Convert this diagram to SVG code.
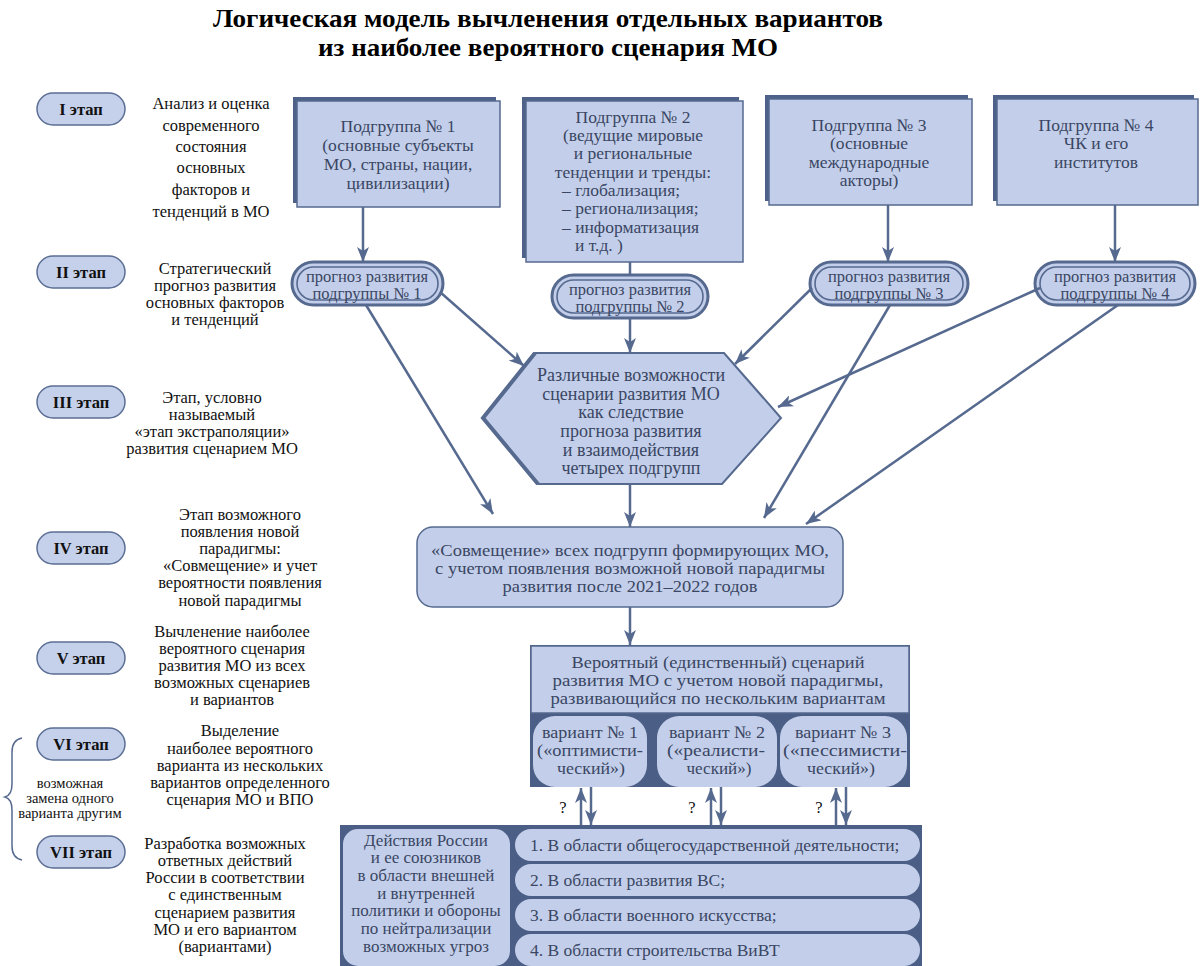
<svg xmlns="http://www.w3.org/2000/svg" width="1200" height="966" viewBox="0 0 1200 966">
<defs>
<marker id="ah" markerUnits="userSpaceOnUse" markerWidth="16" markerHeight="12" refX="15" refY="6" orient="auto">
<path d="M0,0 L15,6 L0,12 L4,6 z" fill="#56698f"/>
</marker>
<style>
text{font-family:"Liberation Serif","Times New Roman","DejaVu Serif","Noto Serif",serif}
.title{font-weight:bold;font-size:26px;fill:#000;text-anchor:middle}
.st{fill:#c5d0ea;stroke:#5b6e94;stroke-width:1.5}
.stt{font-weight:bold;font-size:16.5px;fill:#111;text-anchor:middle}
.desc{font-size:16.5px;fill:#111;text-anchor:middle}
.sm{font-size:14.5px;fill:#111;text-anchor:middle}
.box{fill:#c3cfea;stroke:#56698f;stroke-width:1.5}
.shd{fill:#4e6189}
.bt{font-size:17.5px;fill:#3a4663;text-anchor:middle}
.hx{font-size:18px;fill:#3a4663;text-anchor:middle}
.at{font-size:17px;fill:#3a4663;text-anchor:middle}
.btl{font-size:17.5px;fill:#3a4663}
.pt{font-size:16.5px;fill:#3a4663;text-anchor:middle}
.po{fill:#c3cfea;stroke:#56698f;stroke-width:3}
.pi{fill:none;stroke:#56698f;stroke-width:1.6}
.dark{fill:#4b5e86}
.con{stroke:#56698f;stroke-width:2.5;fill:none}
.arr{stroke:#56698f;stroke-width:2.5;fill:none;marker-end:url(#ah)}
</style>
</defs>

<g id="title">
<text class="title" x="548" y="27" textLength="670" lengthAdjust="spacingAndGlyphs">Логическая модель вычленения отдельных вариантов</text>
<text class="title" x="548" y="56" textLength="460" lengthAdjust="spacingAndGlyphs">из наиболее вероятного сценария МО</text>
</g>

<g id="stage1">
<rect class="st" x="37" y="93" width="88" height="32" rx="16"/>
<text class="stt" x="81" y="115">I этап</text>
<text class="desc" x="211" y="109">Анализ и оценка</text>
<text class="desc" x="211" y="131">современного</text>
<text class="desc" x="211" y="152">состояния</text>
<text class="desc" x="211" y="173">основных</text>
<text class="desc" x="211" y="195">факторов и</text>
<text class="desc" x="211" y="217">тенденций в МО</text>
</g>
<g id="stage2">
<rect class="st" x="37" y="256" width="88" height="32" rx="16"/>
<text class="stt" x="81" y="278">II этап</text>
<text class="desc" x="215" y="274">Стратегический</text>
<text class="desc" x="215" y="291">прогноз развития</text>
<text class="desc" x="215" y="308">основных факторов</text>
<text class="desc" x="215" y="325">и тенденций</text>
</g>
<g id="stage3">
<rect class="st" x="37" y="386" width="88" height="32" rx="16"/>
<text class="stt" x="81" y="408">III этап</text>
<text class="desc" x="212" y="403">Этап, условно</text>
<text class="desc" x="212" y="420">называемый</text>
<text class="desc" x="212" y="437">«этап экстраполяции»</text>
<text class="desc" x="212" y="454">развития сценарием МО</text>
</g>
<g id="stage4">
<rect class="st" x="37" y="532" width="88" height="32" rx="16"/>
<text class="stt" x="81" y="554">IV этап</text>
<text class="desc" x="240" y="520">Этап возможного</text>
<text class="desc" x="240" y="537">появления новой</text>
<text class="desc" x="240" y="554">парадигмы:</text>
<text class="desc" x="240" y="571">«Совмещение» и учет</text>
<text class="desc" x="240" y="588">вероятности появления</text>
<text class="desc" x="240" y="606">новой парадигмы</text>
</g>
<g id="stage5">
<rect class="st" x="37" y="642" width="88" height="32" rx="16"/>
<text class="stt" x="81" y="664">V этап</text>
<text class="desc" x="232" y="637">Вычленение наиболее</text>
<text class="desc" x="232" y="654">вероятного сценария</text>
<text class="desc" x="232" y="671">развития МО из всех</text>
<text class="desc" x="232" y="688">возможных сценариев</text>
<text class="desc" x="232" y="705">и вариантов</text>
</g>
<g id="stage6">
<rect class="st" x="37" y="728" width="88" height="32" rx="16"/>
<text class="stt" x="81" y="750">VI этап</text>
<text class="desc" x="240" y="736">Выделение</text>
<text class="desc" x="240" y="754">наиболее вероятного</text>
<text class="desc" x="240" y="771">варианта из нескольких</text>
<text class="desc" x="240" y="788">вариантов определенного</text>
<text class="desc" x="240" y="805">сценария МО и ВПО</text>
</g>
<g id="stage7">
<rect class="st" x="37" y="836" width="88" height="32" rx="16"/>
<text class="stt" x="81" y="858">VII этап</text>
<text class="desc" x="225" y="849">Разработка возможных</text>
<text class="desc" x="225" y="866">ответных действий</text>
<text class="desc" x="225" y="883">России в соответствии</text>
<text class="desc" x="225" y="900">с единственным</text>
<text class="desc" x="225" y="918">сценарием развития</text>
<text class="desc" x="225" y="935">МО и его вариантом</text>
<text class="desc" x="225" y="952">(вариантами)</text>
</g>
<g id="bracket">
<path d="M22,738 Q12,740 12,752 L12,784 Q12,795 5,797 Q12,799 12,810 L12,846 Q12,858 22,860" fill="none" stroke="#56698f" stroke-width="1.5"/>
<text class="sm" x="70" y="788">возможная</text>
<text class="sm" x="70" y="803">замена одного</text>
<text class="sm" x="70" y="818">варианта другим</text>
</g>

<g id="sub1">
<rect class="shd" x="293" y="97" width="203" height="106"/>
<rect class="box" x="297" y="101" width="203" height="106"/>
<text class="bt" x="398" y="132">Подгруппа № 1</text>
<text class="bt" x="398" y="151">(основные субъекты</text>
<text class="bt" x="398" y="170">МО, страны, нации,</text>
<text class="bt" x="398" y="189">цивилизации)</text>
</g>
<g id="sub2">
<rect class="shd" x="522" y="97" width="217" height="161"/>
<rect class="box" x="526" y="101" width="217" height="161"/>
<text class="bt" x="633" y="123">Подгруппа № 2</text>
<text class="bt" x="633" y="141">(ведущие мировые</text>
<text class="bt" x="633" y="159">и региональные</text>
<text class="bt" x="633" y="178">тенденции и тренды:</text>
<text class="btl" x="562" y="196">– глобализация;</text>
<text class="btl" x="562" y="214">– регионализация;</text>
<text class="btl" x="562" y="233">– информатизация</text>
<text class="btl" x="575" y="251">и т.д. )</text>
</g>
<g id="sub3">
<rect class="shd" x="765" y="95" width="203" height="106"/>
<rect class="box" x="769" y="99" width="203" height="106"/>
<text class="bt" x="869" y="131">Подгруппа № 3</text>
<text class="bt" x="869" y="149">(основные</text>
<text class="bt" x="869" y="168">международные</text>
<text class="bt" x="869" y="186">акторы)</text>
</g>
<g id="sub4">
<rect class="shd" x="993" y="95" width="201" height="106"/>
<rect class="box" x="997" y="99" width="201" height="106"/>
<text class="bt" x="1096" y="131">Подгруппа № 4</text>
<text class="bt" x="1096" y="149">ЧК и его</text>
<text class="bt" x="1096" y="168">институтов</text>
</g>

<g id="pill1">
<rect class="po" x="292" y="262" width="151" height="43" rx="21.5"/>
<rect class="pi" x="297" y="267" width="141" height="33" rx="16.5"/>
<text class="pt" x="367" y="282">прогноз развития</text>
<text class="pt" x="367" y="299">подгруппы № 1</text>
</g>
<g id="pill2">
<rect class="po" x="552" y="275" width="156" height="43" rx="21.5"/>
<rect class="pi" x="557" y="280" width="146" height="33" rx="16.5"/>
<text class="pt" x="630" y="295">прогноз развития</text>
<text class="pt" x="630" y="312">подгруппы № 2</text>
</g>
<g id="pill3">
<rect class="po" x="810" y="262" width="158" height="43" rx="21.5"/>
<rect class="pi" x="815" y="267" width="148" height="33" rx="16.5"/>
<text class="pt" x="889" y="282">прогноз развития</text>
<text class="pt" x="889" y="299">подгруппы № 3</text>
</g>
<g id="pill4">
<rect class="po" x="1035" y="262" width="160" height="43" rx="21.5"/>
<rect class="pi" x="1040" y="267" width="150" height="33" rx="16.5"/>
<text class="pt" x="1115" y="282">прогноз развития</text>
<text class="pt" x="1115" y="299">подгруппы № 4</text>
</g>

<g id="hexagon">
<polygon points="535,353 724,353 781,418 722,484 538,484 483,418" fill="#c3cfea" stroke="#56698f" stroke-width="2"/>
<polyline points="538,484 483,418 535,353" fill="none" stroke="#56698f" stroke-width="4"/>
<text class="hx" x="631" y="381">Различные возможности</text>
<text class="hx" x="631" y="400">сценарии развития МО</text>
<text class="hx" x="631" y="418">как следствие</text>
<text class="hx" x="631" y="437">прогноза развития</text>
<text class="hx" x="631" y="456">и взаимодействия</text>
<text class="hx" x="631" y="474">четырех подгрупп</text>
</g>

<g id="combine">
<rect class="box" x="417" y="527" width="426" height="80" rx="16"/>
<text class="bt" x="630" y="556" textLength="398" lengthAdjust="spacingAndGlyphs">«Совмещение» всех подгрупп формирующих МО,</text>
<text class="bt" x="630" y="574" textLength="390" lengthAdjust="spacingAndGlyphs">с учетом появления возможной новой парадигмы</text>
<text class="bt" x="630" y="592" textLength="255" lengthAdjust="spacingAndGlyphs">развития после 2021–2022 годов</text>
</g>

<g id="scenario">
<rect class="dark" x="530" y="645" width="380" height="142"/>
<rect class="box" x="531" y="646" width="378" height="67"/>
<text class="bt" x="718" y="668" textLength="293" lengthAdjust="spacingAndGlyphs">Вероятный (единственный) сценарий</text>
<text class="bt" x="718" y="686" textLength="331" lengthAdjust="spacingAndGlyphs">развития МО с учетом новой парадигмы,</text>
<text class="bt" x="718" y="704" textLength="335" lengthAdjust="spacingAndGlyphs">развивающийся по нескольким вариантам</text>
</g>
<g id="variant1">
<rect x="533" y="716" width="114" height="71" rx="22" fill="#c3cfea"/>
<text class="bt" x="590" y="738" textLength="96" lengthAdjust="spacingAndGlyphs">вариант № 1</text>
<text class="bt" x="590" y="756" textLength="106" lengthAdjust="spacingAndGlyphs">(«оптимисти-</text>
<text class="bt" x="591" y="774" textLength="68" lengthAdjust="spacingAndGlyphs">ческий»)</text>
</g>
<g id="variant2">
<rect x="657" y="716" width="120" height="71" rx="22" fill="#c3cfea"/>
<text class="bt" x="717" y="738" textLength="96" lengthAdjust="spacingAndGlyphs">вариант № 2</text>
<text class="bt" x="716" y="756" textLength="98" lengthAdjust="spacingAndGlyphs">(«реалисти-</text>
<text class="bt" x="719" y="774" textLength="65" lengthAdjust="spacingAndGlyphs">ческий»)</text>
</g>
<g id="variant3">
<rect x="780" y="716" width="127" height="71" rx="22" fill="#c3cfea"/>
<text class="bt" x="843" y="738" textLength="96" lengthAdjust="spacingAndGlyphs">вариант № 3</text>
<text class="bt" x="845" y="756" textLength="124" lengthAdjust="spacingAndGlyphs">(«пессимисти-</text>
<text class="bt" x="841" y="774" textLength="68" lengthAdjust="spacingAndGlyphs">ческий»)</text>
</g>

<g id="actions">
<rect class="dark" x="340" y="825" width="582" height="141"/>
<rect x="343" y="829" width="167" height="137" rx="15" fill="#c3cfea"/>
<text class="at" x="426" y="845.5">Действия России</text>
<text class="at" x="426" y="863.2">и ее союзников</text>
<text class="at" x="426" y="880.8">в области внешней</text>
<text class="at" x="426" y="898.5">и внутренней</text>
<text class="at" x="426" y="916.2">политики и обороны</text>
<text class="at" x="426" y="933.8">по нейтрализации</text>
<text class="at" x="426" y="951.5">возможных угроз</text>
</g>
<g id="row1">
<rect x="515" y="829" width="405" height="32" rx="16" fill="#c3cfea"/>
<text class="btl" x="530" y="851">1. В области общегосударственной деятельности;</text>
</g>
<g id="row2">
<rect x="515" y="864" width="405" height="32" rx="16" fill="#c3cfea"/>
<text class="btl" x="530" y="886">2. В области развития ВС;</text>
</g>
<g id="row3">
<rect x="515" y="899" width="405" height="32" rx="16" fill="#c3cfea"/>
<text class="btl" x="530" y="921">3. В области военного искусства;</text>
</g>
<g id="row4">
<rect x="515" y="934" width="405" height="32" rx="16" fill="#c3cfea"/>
<text class="btl" x="530" y="956">4. В области строительства ВиВТ</text>
</g>

<g id="connectors">
<line class="arr" x1="363" y1="207" x2="363" y2="262"/>
<line class="arr" x1="888" y1="205" x2="888" y2="262"/>
<line class="arr" x1="1115" y1="205" x2="1115" y2="262"/>
<line class="con" x1="630" y1="262" x2="630" y2="275"/>
<line class="arr" x1="630" y1="318" x2="630" y2="353"/>
<line class="arr" x1="440" y1="292" x2="524" y2="366"/>
<line class="arr" x1="366" y1="305" x2="493" y2="514"/>
<line class="arr" x1="812" y1="288" x2="735" y2="364"/>
<line class="arr" x1="890" y1="305" x2="764" y2="518"/>
<line class="arr" x1="1040" y1="288" x2="778" y2="407"/>
<line class="arr" x1="1118" y1="305" x2="806" y2="524"/>
<line class="arr" x1="630" y1="484" x2="630" y2="527"/>
<line class="arr" x1="630" y1="607" x2="630" y2="645"/>
<line class="arr" x1="581" y1="825" x2="581" y2="788"/>
<line class="arr" x1="591" y1="787" x2="591" y2="825"/>
<line class="arr" x1="711" y1="825" x2="711" y2="788"/>
<line class="arr" x1="721" y1="787" x2="721" y2="825"/>
<line class="arr" x1="836" y1="825" x2="836" y2="788"/>
<line class="arr" x1="846" y1="787" x2="846" y2="825"/>
<text class="desc" x="563" y="813">?</text>
<text class="desc" x="692" y="813">?</text>
<text class="desc" x="819" y="813">?</text>
</g>
</svg>
